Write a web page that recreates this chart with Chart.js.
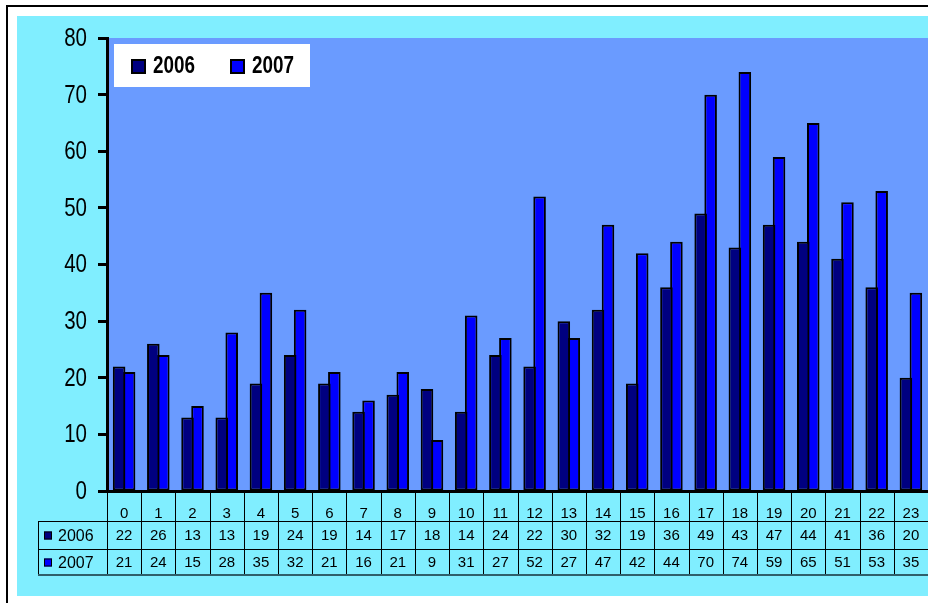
<!DOCTYPE html>
<html>
<head>
<meta charset="utf-8">
<script src="https://cdn.jsdelivr.net/npm/chart.js@4.4.0/dist/chart.umd.min.js"></script>
<style>
  html, body { margin:0; padding:0; overflow:hidden; background:#fff; }
  canvas { display:block; }
</style>
</head>
<body>
<canvas id="chart" width="928" height="603"></canvas>
<script>
// hourly counts
const hours = ['0','1','2','3','4','5','6','7','8','9','10','11','12','13','14','15','16','17','18','19','20','21','22','23'];
const counts2006 = [22,26,13,13,19,24,19,14,17,18,14,24,22,30,32,19,36,49,43,47,44,41,36,20];
const counts2007 = [21,24,15,28,35,32,21,16,21,9,31,27,52,27,47,42,44,70,74,59,65,51,53,35];
const seriesNames = ['2006','2007'];
const seriesColors = ['#000080','#0000ff'];
const yMin = 0, yMax = 80, yStep = 10;

const plain = '"Liberation Sans", Arial, sans-serif';
const squeeze = 0.82; // Arial Narrow ~ Arial squeezed horizontally

function line(ctx, x1, y1, x2, y2){
  ctx.beginPath(); ctx.moveTo(x1, y1); ctx.lineTo(x2, y2); ctx.stroke();
}

// draw narrow text by squeezing a regular face
function narrowText(ctx, txt, x, y, align){
  ctx.save();
  ctx.translate(x, y);
  ctx.scale(squeeze, 1);
  ctx.textAlign = align;
  ctx.fillText(txt, 0, 0);
  ctx.restore();
}

// white page, black frame (left/top only visible), cyan chart area, blue plot area
const backdrop = {
  id: 'backdrop',
  beforeDraw(chart){
    const {ctx, chartArea: a} = chart;
    ctx.save();
    ctx.fillStyle = '#fff';
    ctx.fillRect(0, 0, chart.width, chart.height);
    ctx.fillStyle = '#80eeff';
    ctx.fillRect(17, 16, chart.width, 580);
    ctx.strokeStyle = '#000'; ctx.lineWidth = 2;
    line(ctx, 7, 5, 7, chart.height);
    line(ctx, 6, 6, chart.width, 6);
    ctx.fillStyle = '#6a9bff';
    ctx.fillRect(a.left, a.top, a.right - a.left, a.bottom - a.top);
    ctx.restore();
  }
};

// y tick labels in a narrow face
const yLabels = {
  id: 'yLabels',
  afterDraw(chart){
    const {ctx, scales: {y}} = chart;
    ctx.save();
    ctx.fillStyle = '#000';
    ctx.font = '25px ' + plain;
    ctx.textBaseline = 'middle';
    y.ticks.forEach(t => narrowText(ctx, String(t.value), 87, y.getPixelForValue(t.value) + 1, 'right'));
    ctx.restore();
  }
};

// data table under the x axis
const dataTable = {
  id: 'dataTable',
  afterDraw(chart){
    const {ctx, chartArea: a, scales: {x}} = chart;
    const r1 = 521, r2 = 549, bottom = 575, left = 38;
    const step = (a.right - a.left) / hours.length;
    ctx.save();
    ctx.strokeStyle = '#000'; ctx.lineWidth = 1;
    for (let i = 0; i < hours.length; i++){
      const px = Math.round(a.left + i * step) + 0.5;
      line(ctx, px, a.bottom, px, bottom);
    }
    line(ctx, left + 0.5, r1, left + 0.5, bottom);
    line(ctx, left, r1 + 0.5, a.right, r1 + 0.5);
    line(ctx, left, r2 + 0.5, a.right, r2 + 0.5);
    ctx.strokeStyle = '#2f5f6a'; ctx.lineWidth = 2;
    line(ctx, left, bottom, a.right, bottom);

    ctx.textBaseline = 'middle';
    [counts2006, counts2007].forEach((vals, r) => {
      const cy = r ? 562.5 : 535.5;
      ctx.font = '15px ' + plain;
      ctx.fillStyle = '#000'; ctx.textAlign = 'center';
      vals.forEach((v, i) => ctx.fillText(String(v), x.getPixelForValue(i), cy));
      ctx.fillStyle = seriesColors[r];
      ctx.fillRect(44, cy - 4, 8, 8);
      ctx.lineWidth = 1; ctx.strokeStyle = '#000';
      ctx.strokeRect(44.5, cy - 3.5, 7, 7);
      ctx.fillStyle = '#000'; ctx.textAlign = 'left';
      ctx.font = '16px ' + plain;
      ctx.fillText(seriesNames[r], 58, cy + 1);
    });
    ctx.restore();
  }
};

// legend box in the top-left of the plot
const legendBox = {
  id: 'legendBox',
  afterDraw(chart){
    const ctx = chart.ctx;
    ctx.save();
    ctx.fillStyle = '#fff';
    ctx.fillRect(114, 44, 196, 43);
    const keys = [131, 230];
    ctx.font = 'bold 23px ' + plain;
    ctx.textBaseline = 'middle';
    keys.forEach((kx, i) => {
      ctx.fillStyle = seriesColors[i];
      ctx.fillRect(kx, 59, 15, 15);
      ctx.strokeStyle = '#000'; ctx.lineWidth = 2;
      ctx.strokeRect(kx + 1, 60, 13, 13);
      ctx.fillStyle = '#000';
      narrowText(ctx, seriesNames[i], kx + 22, 67, 'left');
    });
    ctx.restore();
  }
};

new Chart(document.getElementById('chart'), {
  type: 'bar',
  data: {
    labels: hours,
    datasets: [counts2006, counts2007].map((vals, i) => ({
      label: seriesNames[i],
      data: vals,
      backgroundColor: seriesColors[i],
      borderColor: '#000',
      borderWidth: 2,
      borderSkipped: false,
      // slots 10px apart, bars 12.6px wide -> they overlap like the original
      categoryPercentage: 0.583,
      barPercentage: 1.26
    }))
  },
  options: {
    responsive: false,
    animation: false,
    devicePixelRatio: 1,
    layout: { padding: { left: 0, top: 38, right: -3, bottom: 82 } },
    plugins: { legend: { display: false }, tooltip: { enabled: false } },
    scales: {
      x: {
        grid: { display: false },
        border: { display: true, color: '#000', width: 3 },
        ticks: { color: '#000', font: { family: plain, size: 15 }, padding: 6, maxRotation: 0, autoSkip: false },
        afterFit(s){ s.height = 30; }
      },
      y: {
        min: yMin, max: yMax,
        ticks: { stepSize: yStep, display: false },
        grid: { drawOnChartArea: false, tickLength: 9, tickWidth: 3, tickColor: '#000' },
        border: { color: '#000', width: 3 },
        afterFit(s){ s.width = 107; }
      }
    }
  },
  plugins: [backdrop, yLabels, dataTable, legendBox]
});
</script>
</body>
</html>
